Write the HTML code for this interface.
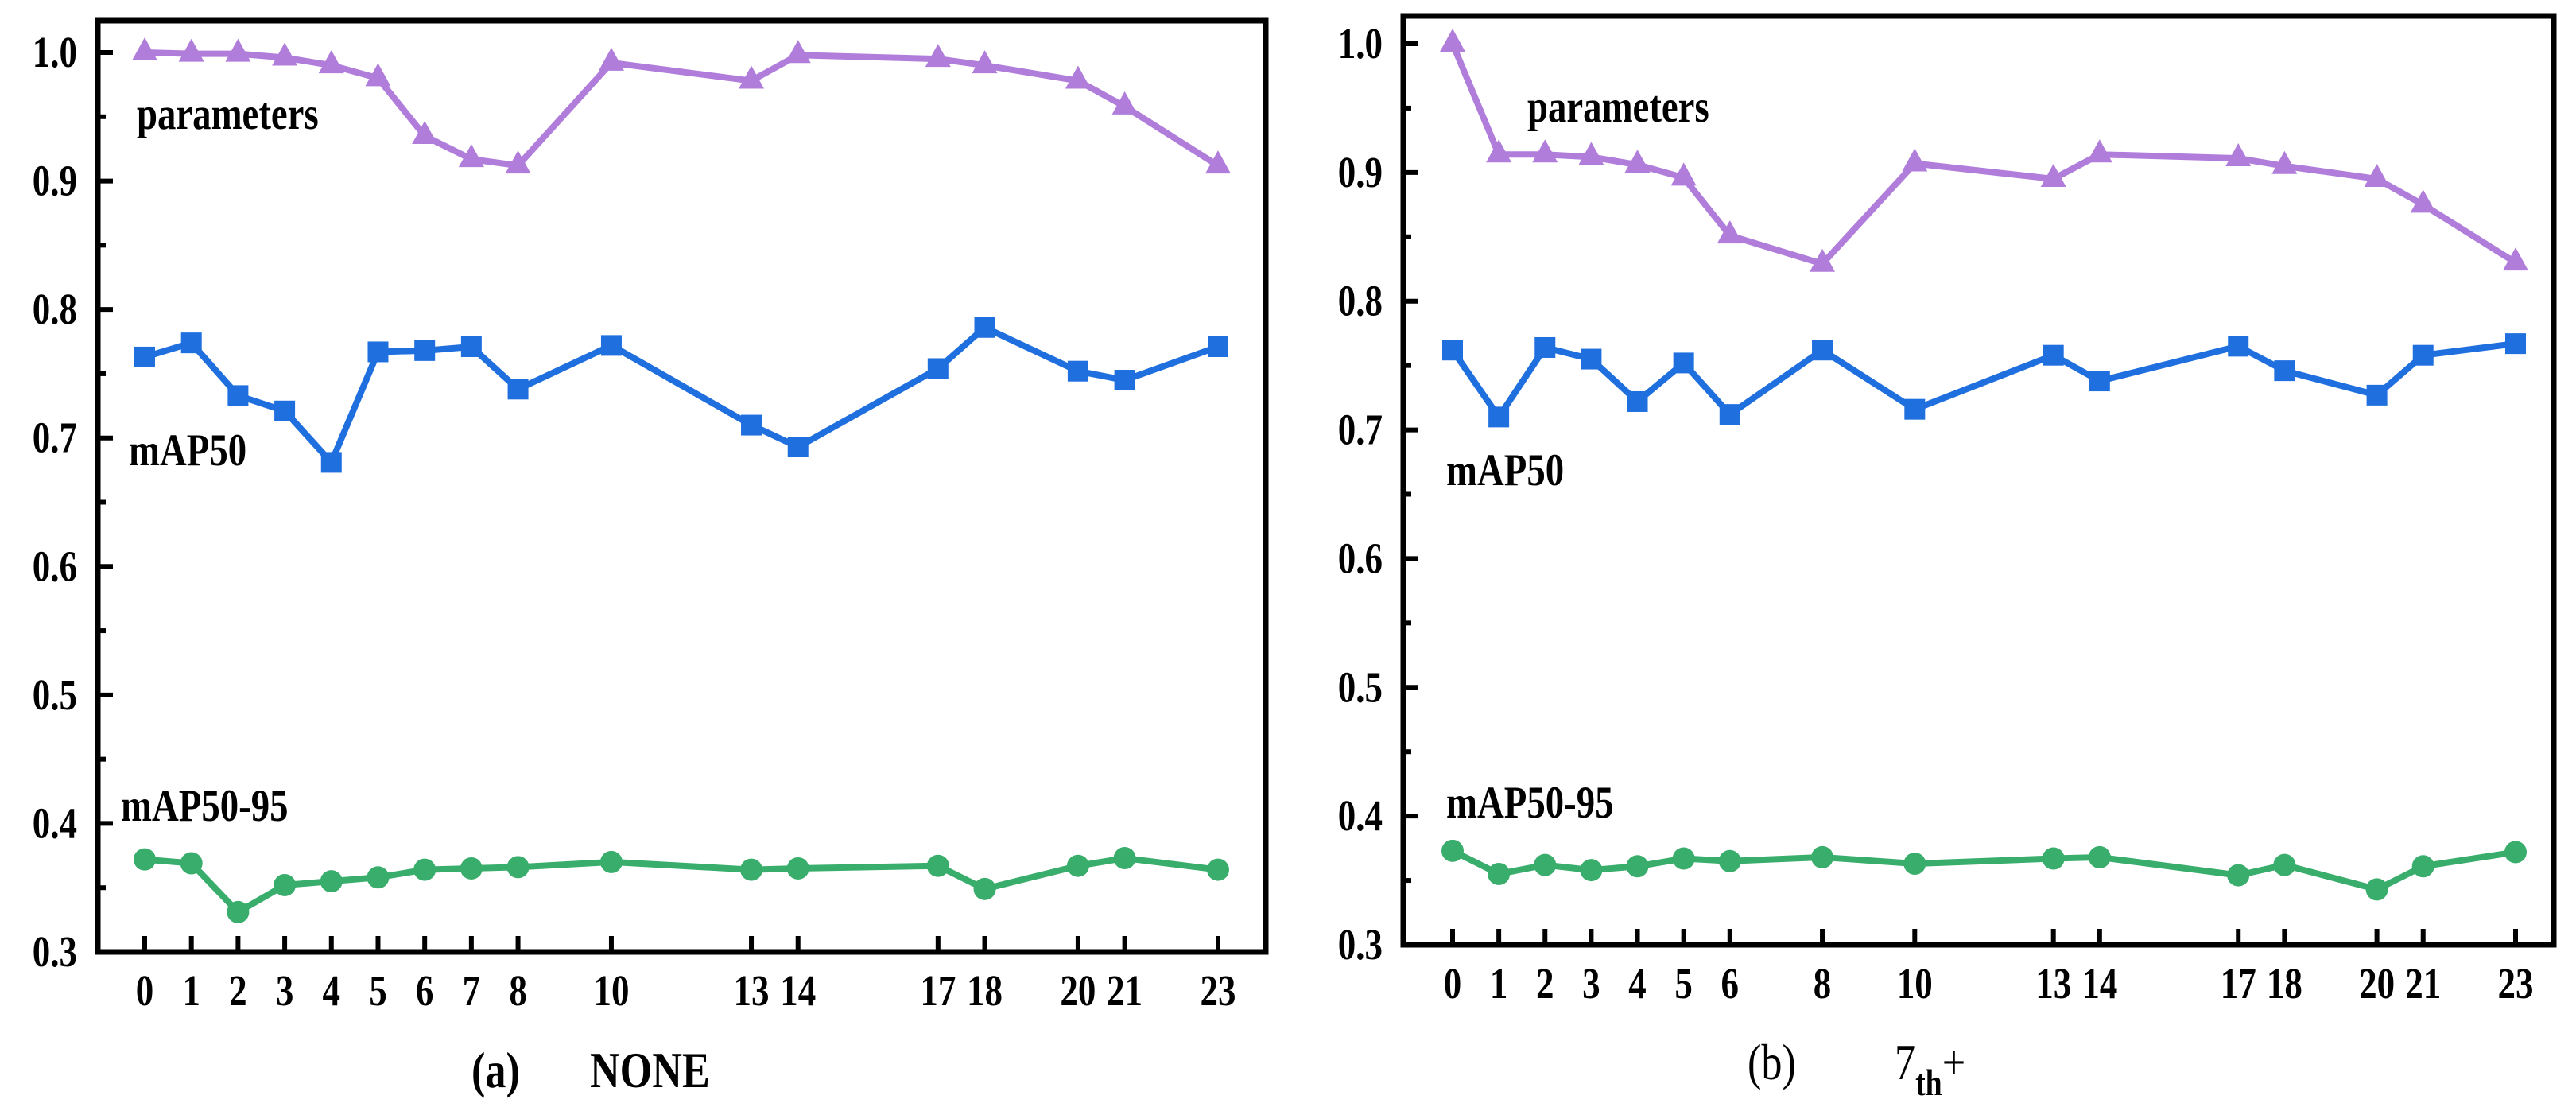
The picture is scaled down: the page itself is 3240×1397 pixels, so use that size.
<!DOCTYPE html>
<html><head><meta charset="utf-8"><style>
html,body{margin:0;padding:0;background:#fff;}
svg{display:block;}
svg text{font-family:"Liberation Serif","Times New Roman","DejaVu Serif",serif;}
</style></head><body>
<svg id="chart" width="3240" height="1397" viewBox="0 0 3240 1397"></svg>
<script>
const xA = [0,1,2,3,4,5,6,7,8,10,13,14,17,18,20,21,23];
const paramsA = [1.0,0.999,0.999,0.996,0.990,0.980,0.935,0.917,0.912,0.992,0.978,0.998,0.995,0.990,0.978,0.958,0.912];
const map50A = [0.763,0.774,0.733,0.721,0.681,0.767,0.768,0.771,0.738,0.772,0.710,0.693,0.754,0.786,0.752,0.745,0.771];
const map5095A = [0.372,0.369,0.331,0.352,0.355,0.358,0.364,0.365,0.366,0.370,0.364,0.365,0.367,0.349,0.367,0.373,0.364];
const xB = [0,1,2,3,4,5,6,8,10,13,14,17,18,20,21,23];
const paramsB = [1.0,0.914,0.914,0.912,0.906,0.896,0.851,0.829,0.907,0.895,0.914,0.911,0.905,0.895,0.875,0.830];
const map50B = [0.762,0.710,0.764,0.755,0.722,0.752,0.712,0.762,0.716,0.758,0.738,0.765,0.746,0.727,0.758,0.767];
const map5095B = [0.373,0.355,0.362,0.358,0.361,0.367,0.365,0.368,0.363,0.367,0.368,0.354,0.362,0.343,0.361,0.372];
const yTicks = [0.3,0.4,0.5,0.6,0.7,0.8,0.9,1.0];
const yTickLabels = ["0.3","0.4","0.5","0.6","0.7","0.8","0.9","1.0"];

const NS="http://www.w3.org/2000/svg";
const FONT='"Liberation Serif","Times New Roman","DejaVu Serif",serif';
const svg=document.getElementById('chart');
function mk(tag,attrs,parent){const e=document.createElementNS(NS,tag);for(const k in attrs)e.setAttribute(k,attrs[k]);(parent||svg).appendChild(e);return e;}
function txt(str,x,y,size,bold,anchor,parent){
  const e=mk('text',{transform:`translate(${x},${y}) scale(0.9,1.1)`,'font-size':size,'font-family':FONT,'font-weight':bold?'bold':'normal','text-anchor':anchor||'start'},parent);
  e.textContent=str;return e;
}

const C={p:'#b07ddb',m:'#1f6fdf',g:'#39ad6b'};

function panel(cfg){
  const g=mk('g',{});
  
  
  const X=v=>cfg.x0px+(v-0)*(cfg.x23px-cfg.x0px)/23;
  const Y=v=>cfg.y03+(v-0.3)*(cfg.y10-cfg.y03)/0.7;
  yTicks.forEach((t,i)=>{
    const l=mk('line',{x1:cfg.L,x2:cfg.L+19,y1:Y(t),y2:Y(t),stroke:'#000','stroke-width':6},g);
    
    
    const tx=txt(yTickLabels[i],cfg.L-26,Y(t)+18,50,true,'end',g);
    
    
    if(i<yTicks.length-1){
      const mv=t+0.05;
      const m=mk('line',{x1:cfg.L,x2:cfg.L+10,y1:Y(mv),y2:Y(mv),stroke:'#000','stroke-width':6},g);
      
      
    }
  });
  cfg.xs.forEach(v=>{
    const l=mk('line',{x1:X(v),x2:X(v),y1:cfg.B,y2:cfg.B-20,stroke:'#000','stroke-width':6},g);
    
    
    const tx=txt(String(v),X(v),cfg.B+67,50,true,'middle',g);
    
    
  });
  const series=[[cfg.p,C.p,'tri','parameters-series'],[cfg.m,C.m,'sq','map50-series'],[cfg.g,C.g,'circ','map50-95-series']];
  series.forEach(([vals,col,mkr,nm])=>{
    const pts=cfg.xs.map((v,i)=>X(v)+','+Y(vals[i])).join(' ');
    const pl=mk('polyline',{points:pts,fill:'none',stroke:col,'stroke-width':8,'stroke-linejoin':'round'},g);
    
    
    cfg.xs.forEach((v,i)=>{
      const cx=X(v),cy=Y(vals[i]);let e;
      if(mkr==='tri') e=mk('polygon',{points:`${cx},${cy-19} ${cx-16},${cy+10} ${cx+16},${cy+10}`,fill:col},g);
      else if(mkr==='sq') e=mk('rect',{x:cx-13,y:cy-13,width:26,height:26,fill:col},g);
      else e=mk('circle',{cx:cx,cy:cy,r:14,fill:col},g);
      
      
    });
  });
  const fr=mk('rect',{x:cfg.L,y:cfg.T,width:cfg.R-cfg.L,height:cfg.B-cfg.T,fill:'none',stroke:'#000','stroke-width':7},g);
  
  
  cfg.labels.forEach(([t,x,y,nm])=>{
    const tx=txt(t,x,y,52,true,'start',g);
    
    
  });
}

panel({name:'panel-a',L:123,R:1592,T:26,B:1197,x0px:182,x23px:1532,y03:1197,y10:66,
  xs:xA,p:paramsA,m:map50A,g:map5095A,
  labels:[['parameters',172,162,'parameters-label'],['mAP50',162,585,'map50-label'],['mAP50-95',152,1032,'map50-95-label']]});
panel({name:'panel-b',L:1765,R:3212,T:20,B:1188,x0px:1827,x23px:3164,y03:1188,y10:55,
  xs:xB,p:paramsB,m:map50B,g:map5095B,
  labels:[['parameters',1921,153,'parameters-label'],['mAP50',1819,610,'map50-label'],['mAP50-95',1819,1028,'map50-95-label']]});

let t=txt('(a)',593,1367,58,true,'start');


t=txt('NONE',742,1367,58,true,'start');


t=txt('(b)',2198,1357,58,false,'start');


t=txt('',2383,1357,58,false,'start');


const s1=mk('tspan',{},t);s1.textContent='7';
const s2=mk('tspan',{dy:18,'font-size':42,'font-weight':'bold'},t);s2.textContent='th';
const s3=mk('tspan',{dy:-18},t);s3.textContent='+';
</script>
</body></html>
